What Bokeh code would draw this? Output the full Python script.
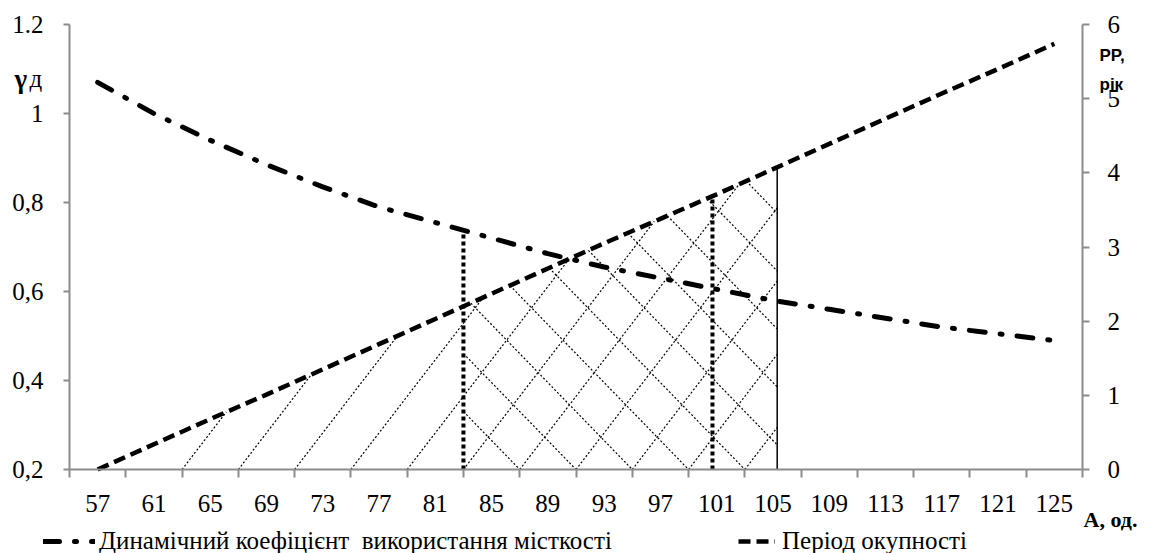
import numpy as np
from bokeh.plotting import figure
from bokeh.models import Range1d, LinearAxis, FixedTicker, Label, Legend, LegendItem
from bokeh.embed import file_html
from bokeh.resources import INLINE

# ---------------- data ----------------
A = [57, 61, 65, 69, 73, 77, 81, 85, 89, 93, 97, 101, 105, 109, 113, 117, 121, 125]
gamma = [1.07, 1.00, 0.94, 0.885, 0.835, 0.79, 0.755, 0.72, 0.685, 0.655, 0.63,
         0.605, 0.58, 0.56, 0.54, 0.52, 0.505, 0.49]
pp = [0.0, 0.34, 0.68, 1.01, 1.35, 1.69, 2.03, 2.37, 2.71, 3.05, 3.38, 3.71,
      4.05, 4.39, 4.73, 5.07, 5.40, 5.74]
bin_edges = [55, 59, 63, 67, 71, 75, 79, 83, 87, 91, 95, 99, 103, 107, 111, 115,
             119, 123, 127]
left_ticks = [0.2, 0.4, 0.6, 0.8, 1.0, 1.2]
left_tick_labels = ["0,2", "0,4", "0,6", "0,8", "1", "1.2"]
right_ticks = [0, 1, 2, 3, 4, 5, 6]
dotted_low = 83.0    # dotted line up to the gamma curve
dotted_high = 100.7  # dotted line up to the payback curve
solid_mark = 105.3   # solid line up to the payback curve
hatch_start = 63     # left edge of the single-hatched zone

series1 = "Динамічний коефіцієнт  використання місткості"
series2 = "Період окупності"

# ---------------- geometry ----------------
W, H = 1160, 553
PX_L, PX_R, PX_T, PX_B = 69, 1082, 24, 469      # plot box in canvas pixels
X0, X1 = 55, 127
G0, G1 = 0.2, 1.2
P0, P1 = 0, 6
px_x = (PX_R - PX_L) / (X1 - X0)
px_g = (PX_B - PX_T) / (G1 - G0)
px_p = (PX_B - PX_T) / (P1 - P0)

SERIF = "Liberation Serif"
GREY = "#8c8c8c"

p = figure(width=W, height=H,
           x_range=Range1d(X0 - PX_L / px_x, X1 + (W - PX_R) / px_x),
           y_range=Range1d(G0 - (H - PX_B) / px_g, G1 + PX_T / px_g),
           output_backend="svg", toolbar_location=None,
           min_border_left=0, min_border_right=0, min_border_top=0, min_border_bottom=0)
p.extra_y_ranges = {"pp": Range1d(P0 - (H - PX_B) / px_p, P1 + PX_T / px_p)}
p.outline_line_color = None
p.xgrid.visible = False
p.ygrid.visible = False
p.background_fill_color = "white"
p.border_fill_color = "white"


def xd(px):
    return X0 + (px - PX_L) / px_x


def yd(py):
    return G1 - (py - PX_T) / px_g


# bottom axis
xa = p.xaxis[0]
xa.fixed_location = G0
xa.bounds = (X0, X1)
xa.ticker = FixedTicker(ticks=A, minor_ticks=bin_edges)
xa.major_tick_out = 0
xa.major_tick_in = 0
xa.minor_tick_out = 8
xa.minor_tick_in = 0
xa.minor_tick_line_color = GREY
xa.minor_tick_line_width = 2
xa.axis_line_color = GREY
xa.axis_line_width = 2
xa.major_label_standoff = 17
xa.major_label_text_font = SERIF
xa.major_label_text_font_size = "25px"
xa.major_label_text_color = "black"

# left axis
ya = p.yaxis[0]
ya.fixed_location = X0
ya.bounds = (G0, G1)
ya.ticker = FixedTicker(ticks=left_ticks, minor_ticks=[])
ya.major_label_overrides = {t: s for t, s in zip(left_ticks, left_tick_labels)}
ya.major_tick_out = 6
ya.major_tick_in = 0
ya.minor_tick_out = 0
ya.minor_tick_in = 0
ya.major_tick_line_color = GREY
ya.major_tick_line_width = 2
ya.axis_line_color = GREY
ya.axis_line_width = 2
ya.major_label_standoff = 20
ya.major_label_text_font = SERIF
ya.major_label_text_font_size = "25px"
ya.major_label_text_color = "black"

# right axis
ra = LinearAxis(y_range_name="pp", fixed_location=X1, bounds=(P0, P1),
                ticker=FixedTicker(ticks=right_ticks, minor_ticks=[]))
ra.major_tick_out = 7
ra.major_tick_in = 0
ra.minor_tick_out = 0
ra.minor_tick_in = 0
ra.major_tick_line_color = GREY
ra.major_tick_line_width = 2
ra.axis_line_color = GREY
ra.axis_line_width = 2
ra.major_label_standoff = 18
ra.major_label_text_font = SERIF
ra.major_label_text_font_size = "25px"
ra.major_label_text_color = "black"
p.add_layout(ra, "right")

# ---------------- hatching ----------------
k_fwd = 1.30 * px_x / px_p    # "/" lines (screen slope 1.30)
k_back = 1.03 * px_x / px_p   # "\" lines (screen slope 1.03)

xf = np.linspace(A[0], A[-1], 6000)
ppf = np.interp(xf, A, pp)

hx, hy = [], []
for x0 in bin_edges:
    if x0 < hatch_start or x0 >= solid_mark:
        continue
    yl = k_fwd * (xf - x0)
    idx = np.where((xf > x0) & (yl >= ppf))[0]
    xe = xf[idx[0]] if len(idx) else solid_mark
    xe = min(xe, solid_mark)
    hx.append([x0, xe])
    hy.append([0, k_fwd * (xe - x0)])
for x1 in bin_edges:
    if x1 <= dotted_low:
        continue
    yl = k_back * (x1 - xf)
    ok = np.where((xf >= dotted_low) & (yl <= ppf))[0]
    if not len(ok):
        continue
    xs = max(dotted_low, xf[ok[0]])
    xe = min(solid_mark, x1)
    if xs >= xe:
        continue
    hx.append([xs, xe])
    hy.append([k_back * (x1 - xs), k_back * (x1 - xe)])

p.multi_line(hx, hy, y_range_name="pp", line_color="black", line_width=1.2,
             line_dash="2 2")

# ---------------- vertical marker lines ----------------
g_top = float(np.interp(dotted_low, A, gamma))
pp_top_hi = float(np.interp(dotted_high, A, pp))
pp_top_solid = float(np.interp(solid_mark, A, pp))
p.segment(x0=[dotted_low], y0=[G0], x1=[dotted_low], y1=[g_top],
          line_color="black", line_width=4, line_dash="4 3")
p.segment(x0=[dotted_high], y0=[P0], x1=[dotted_high], y1=[pp_top_hi], y_range_name="pp",
          line_color="black", line_width=4, line_dash="4 3")
p.segment(x0=[solid_mark], y0=[P0], x1=[solid_mark], y1=[pp_top_solid], y_range_name="pp",
          line_color="black", line_width=1.5)

# ---------------- main lines ----------------
r1 = p.line(A, gamma, line_color="black", line_width=5, line_dash="16 15 2 15",
            line_cap="round")
r2 = p.line(A, pp, y_range_name="pp", line_color="black", line_width=4.5,
            line_dash="12 6")

# ---------------- legends ----------------
common = dict(orientation="horizontal", glyph_height=20, padding=0, margin=0, spacing=0,
              label_text_font=SERIF, label_text_font_size="25px", label_text_color="black",
              background_fill_alpha=0, border_line_alpha=0)
leg1 = Legend(items=[LegendItem(label=series1, renderers=[r1])], location=(43, -2),
              glyph_width=52, label_standoff=4, **common)
leg2 = Legend(items=[LegendItem(label=series2, renderers=[r2])], location=(738, -2),
              glyph_width=37, label_standoff=7, **common)
p.add_layout(leg1)
p.add_layout(leg2)

# ---------------- axis titles ----------------
p.add_layout(Label(x=xd(14), y=yd(78), text="γ", text_font=SERIF,
                   text_font_size="27px", text_font_style="bold", text_align="left",
                   text_baseline="alphabetic", text_color="black"))
p.add_layout(Label(x=xd(29), y=yd(78), text="д", text_font=SERIF,
                   text_font_size="25px", text_align="left",
                   text_baseline="alphabetic", text_color="black"))
p.add_layout(Label(x=xd(1099), y=yd(55), text="PP,", text_font="Liberation Sans",
                   text_font_size="17px", text_font_style="bold", text_align="left",
                   text_baseline="alphabetic", text_color="black"))
p.add_layout(Label(x=xd(1099), y=yd(84), text="рік", text_font="Liberation Sans",
                   text_font_size="17px", text_font_style="bold", text_align="left",
                   text_baseline="alphabetic", text_color="black"))
p.add_layout(Label(x=xd(1083), y=yd(519), text="А, од.", text_font=SERIF,
                   text_font_size="22px", text_font_style="bold", text_align="left",
                   text_baseline="alphabetic", text_color="black"))

open("out.html", "w").write(file_html(p, INLINE))
